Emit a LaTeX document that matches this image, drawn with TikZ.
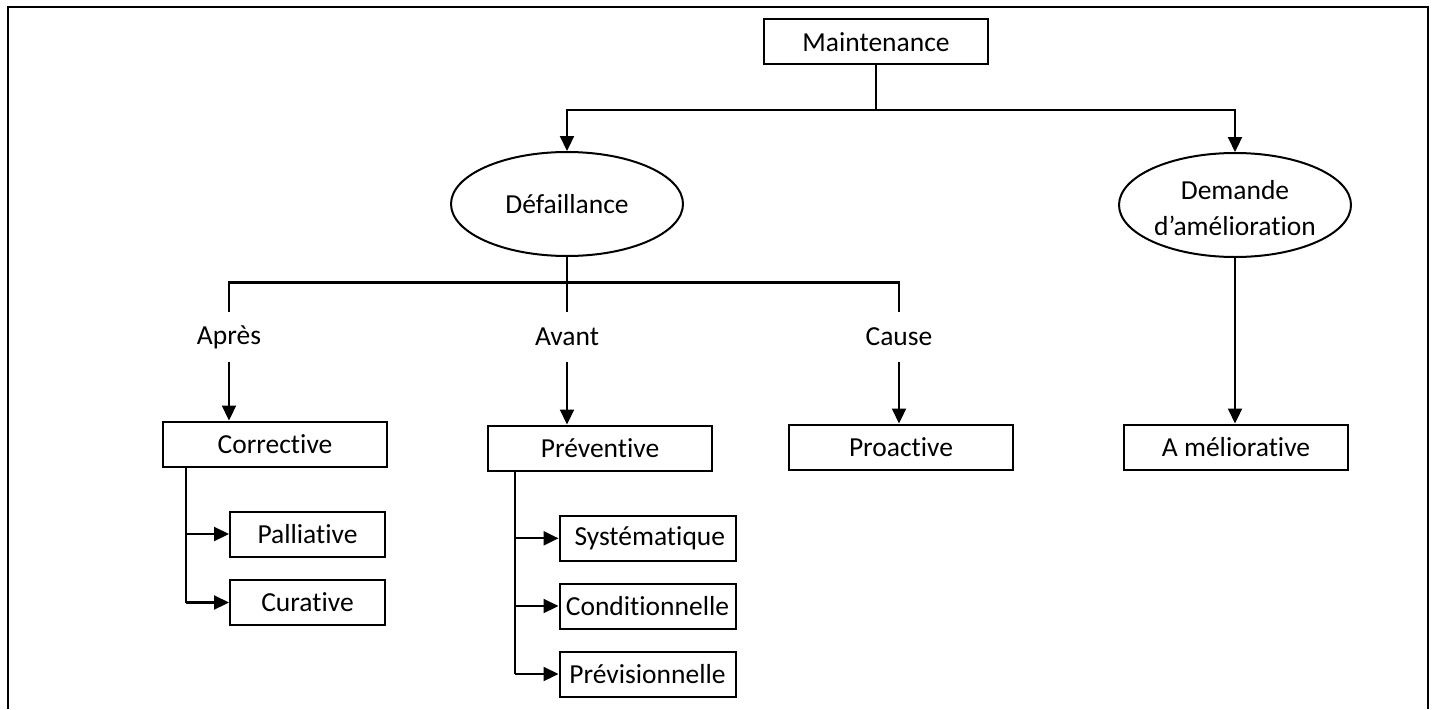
\documentclass[tikz,border=0pt]{standalone}
\usepackage{fontspec}
\setmainfont{Carlito}[Ligatures=CommonOff]
\usetikzlibrary{arrows.meta,shapes.geometric}
\begin{document}
\begin{tikzpicture}[x=1pt,y=-1pt,
  every node/.style={font=\fontsize{27.5}{33}\selectfont, inner sep=0pt},
  box/.style={draw, line width=2pt, minimum height=45pt},
  oval/.style={draw, ellipse, line width=2pt, minimum width=232pt,
               minimum height=104pt, align=center},
  lbl/.style={minimum height=50pt},
  link/.style={line width=2.2pt},
  arr/.style={link, -{Triangle[length=15pt,width=14pt]}}]

\useasboundingbox (0,0) rectangle (1434,709);

% outer frame (open at the bottom)
\draw[line width=2.5pt] (8,709) -- (8,7) -- (1428,7) -- (1428,709);

% root and the two triggers
\node[box, minimum width=224pt] (maint) at (876,42) {Maintenance};
\node[oval] (def) at (567,204) {Défaillance};
% two-line text in a fixed-size ellipse
\node[oval, label={[yshift=-3pt, align=center,
    font=\fontsize{27.5}{36}\selectfont]center:Demande\\d’amélioration}]
  (dem) at (1235,205) {};

% bus levels and branch columns
\coordinate (tbar) at (0,110);
\coordinate (mbar) at (0,282.5);
\coordinate (cbus) at (185.7,0);
\coordinate (pbus) at (515,0);

% timing labels
\node[lbl] (apres) at (229,337) {Après};
\node[lbl] (avant) at (567,337) {Avant};
\node[lbl] (cause) at (899,337) {Cause};

% maintenance types
\node[box, minimum width=224pt] (corr) at (275,444) {Corrective};
\node[box, minimum width=224pt] (prev) at (600,448) {Préventive};
\node[box, minimum width=224pt] (proa) at (901,447) {Proactive};
\node[box, minimum width=224pt] (amel) at (1236,447) {A méliorative};

% sub-types
\node[box, minimum width=155pt] (pall) at (307.5,534) {Palliative};
\node[box, minimum width=155pt] (cura) at (307.5,602.5) {Curative};
\node[box, minimum width=176pt] (syst) at (647.5,538.3) {\,Systématique};
\node[box, minimum width=176pt] (cond) at (647.5,606) {Conditionnelle};
\node[box, minimum width=176pt] (prvi) at (647.5,674) {Prévisionnelle};

% root to triggers
\draw[link] (maint.south) -- (maint.south |- tbar);
\draw[arr] (maint.south |- tbar) -| (def.north);
\draw[arr] (maint.south |- tbar) -| (dem.north);

% failure to timing labels
\draw[link] (def.south) -- (avant.north);
\draw[link] (apres.north) |- (cause.north |- mbar) -- (cause.north);

% labels to types
\draw[arr] (apres.south) -- (apres.south |- corr.north);
\draw[arr] (avant.south) -- (avant.south |- prev.north);
\draw[arr] (cause.south) -- (cause.south |- proa.north);
\draw[arr] (dem.south) -- (dem.south |- amel.north);

% corrective sub-types
\draw[link] (cbus |- corr.south) -- (cbus |- cura.west);
\draw[arr] (cbus |- pall.west) -- (pall.west);
\draw[arr] (cbus |- cura.west) -- (cura.west);

% preventive sub-types
\draw[link] (pbus |- prev.south) -- (pbus |- prvi.west);
\draw[arr] (pbus |- syst.west) -- (syst.west);
\draw[arr] (pbus |- cond.west) -- (cond.west);
\draw[arr] (pbus |- prvi.west) -- (prvi.west);

\end{tikzpicture}
\end{document}
